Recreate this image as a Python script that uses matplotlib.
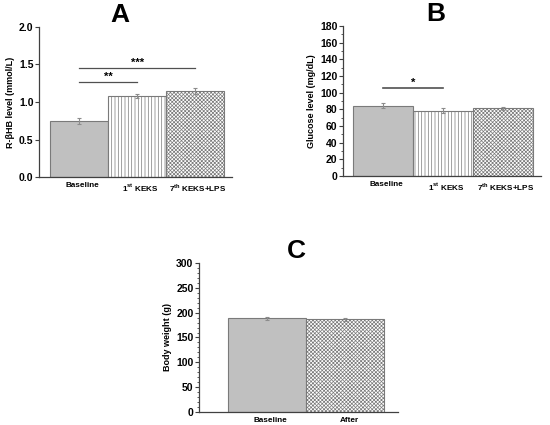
import matplotlib
matplotlib.use('Agg')
import matplotlib.pyplot as plt
import numpy as np

plt.rcParams['font.family'] = ['Liberation Sans', 'DejaVu Sans']
plt.rcParams['font.weight'] = 'bold'
plt.rcParams['mathtext.fontset'] = 'custom'
plt.rcParams['mathtext.rm'] = 'Liberation Sans:bold'
plt.rcParams['mathtext.bf'] = 'Liberation Sans:bold'
plt.rcParams['hatch.color'] = '#8c8c8c'
plt.rcParams['hatch.linewidth'] = 0.5

# panel A: R-bHB
groups_ab = ['Baseline', r'1$^{\mathbf{st}}$ KEKS', r'7$^{\mathbf{th}}$ KEKS+LPS']
bhb_mean = [0.75, 1.08, 1.15]
bhb_err = [0.04, 0.03, 0.04]

# panel B: glucose
glu_mean = [84, 78.5, 81]
glu_err = [3, 2.5, 2]

# panel C: body weight
groups_c = ['Baseline', 'After']
bw_mean = [189, 187]
bw_err = [3, 3]

hatches_ab = ['', '|||||', 'xxxxxxxxx']
hatches_c = ['', 'xxxxxxxxx']
edge = '#7a7a7a'
spine_col = '#404040'

fig = plt.figure(figsize=(5.5, 4.25), dpi=100)


def draw_panel(ax, labels, means, errs, hatches, ylim, yticks, minor, letter):
    x = np.arange(len(means))
    for i in range(len(means)):
        fc = '#c0c0c0' if hatches[i] == '' else 'white'
        ax.bar(x[i], means[i], width=1.0, color=fc, edgecolor=edge,
               hatch=hatches[i], linewidth=0.8, zorder=2)
    ax.errorbar(x, means, yerr=errs, fmt='none', ecolor='#8c8c8c',
                elinewidth=0.8, capsize=1.5, capthick=0.8, zorder=3)
    ax.set_ylim(*ylim)
    ax.set_yticks(yticks)
    if minor is not None:
        ax.set_yticks(minor, minor=True)
    ax.set_xticks(x + 0.05)
    ax.set_xticklabels(labels, fontsize=5.9, fontweight='bold')
    ax.tick_params(axis='x', length=0, pad=3.5)
    ax.tick_params(axis='y', labelsize=7.5, length=3, width=0.8,
                   colors=spine_col, labelcolor='black', pad=1)
    ax.tick_params(axis='y', which='minor', length=1.5, width=0.6, colors=spine_col)
    for s in ['top', 'right']:
        ax.spines[s].set_visible(False)
    for s in ['left', 'bottom']:
        ax.spines[s].set_color(spine_col)
        ax.spines[s].set_linewidth(0.9)
    ax.set_title(letter, fontsize=19, fontweight='bold', pad=-1)


# A
axA = fig.add_axes([0.071, 0.5835, 0.35, 0.353])
draw_panel(axA, groups_ab, bhb_mean, bhb_err, hatches_ab, (0, 2.0),
           [0.0, 0.5, 1.0, 1.5, 2.0], None, 'A')
axA.set_yticklabels(['0.0', '0.5', '1.0', '1.5', '2.0'])
axA.set_xlim(-0.695, 2.63)
axA.set_ylabel('R-βHB level (mmol/L)', fontsize=6.5, fontweight='bold', labelpad=3)
axA.plot([0, 2], [1.45, 1.45], color='#505050', lw=0.9)
axA.plot([0, 1], [1.26, 1.26], color='#505050', lw=0.9)
axA.text(1.0, 1.46, '***', ha='center', va='bottom', fontsize=8, fontweight='bold')
axA.text(0.5, 1.27, '**', ha='center', va='bottom', fontsize=8, fontweight='bold')
axA.title.set_position((0.42, 1.0))

# B
axB = fig.add_axes([0.6236, 0.586, 0.36, 0.353])
draw_panel(axB, groups_ab, glu_mean, glu_err, hatches_ab, (0, 180),
           np.arange(0, 181, 20), np.arange(0, 181, 10), 'B')
axB.set_xlim(-0.67, 2.64)
axB.set_ylabel('Glucose level (mg/dL)', fontsize=6.5, fontweight='bold', labelpad=3)
axB.plot([0, 1], [105, 105], color='#505050', lw=1.2)
axB.text(0.5, 106, '*', ha='center', va='bottom', fontsize=8, fontweight='bold')
axB.title.set_position((0.47, 1.0))

# C
axC = fig.add_axes([0.3618, 0.0306, 0.362, 0.3506])
draw_panel(axC, groups_c, bw_mean, bw_err, hatches_c, (0, 300),
           np.arange(0, 301, 50), np.arange(0, 301, 10), 'C')
axC.set_xlim(-0.87, 1.68)
axC.set_ylabel('Body weight (g)', fontsize=6.5, fontweight='bold', labelpad=3)
axC.title.set_position((0.49, 1.0))

fig.savefig('out.png', dpi=100)
